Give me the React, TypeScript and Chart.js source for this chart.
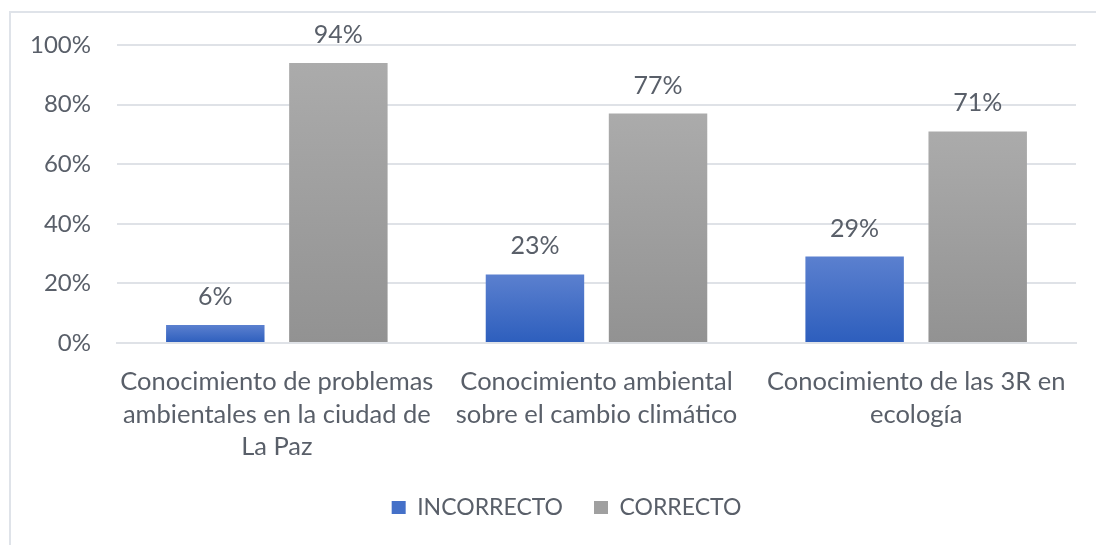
import React, { useEffect, useRef } from "react";
import { Chart, registerables } from "chart.js";

Chart.register(...registerables);

const categories: string[][] = [
  ["Conocimiento de problemas", "ambientales en la ciudad de", "La Paz"],
  ["Conocimiento ambiental", "sobre el cambio climático"],
  ["Conocimiento de las 3R en", "ecología"],
];
const incorrecto: number[] = [6, 23, 29];
const correcto: number[] = [94, 77, 71];
const yTicks: number[] = [0, 20, 40, 60, 80, 100];

const FONT = "Lato, 'Open Sans', sans-serif";
const TEXT = "#595f69";
const GRID = "#dfe2e7";

function barGradient(ctx: any, top: string, bottom: string) {
  const chart = ctx.chart;
  const y = chart.scales?.y;
  if (!y || ctx.parsed === undefined || ctx.type !== "data") return bottom;
  const yTop = y.getPixelForValue(ctx.parsed.y);
  const yBot = y.getPixelForValue(0);
  if (!isFinite(yTop) || !isFinite(yBot) || yTop === yBot) return bottom;
  const g = chart.ctx.createLinearGradient(0, yTop, 0, yBot);
  g.addColorStop(0, top);
  g.addColorStop(1, bottom);
  return g;
}

const dataLabels = {
  id: "dataLabels",
  afterDatasetsDraw(chart: any) {
    const c = chart.ctx;
    c.save();
    c.font = `25px ${FONT}`;
    c.fillStyle = TEXT;
    c.textAlign = "center";
    c.textBaseline = "alphabetic";
    chart.data.datasets.forEach((ds: any, i: number) => {
      const meta = chart.getDatasetMeta(i);
      meta.data.forEach((el: any, j: number) => {
        c.fillText(`${ds.data[j]}%`, el.x, el.y - 20);
      });
    });
    c.restore();
  },
};

export default function App() {
  const ref = useRef<HTMLCanvasElement>(null);
  useEffect(() => {
    if (!ref.current) return;
    const chart = new Chart(ref.current, {
      type: "bar",
      data: {
        labels: categories,
        datasets: [
          {
            label: "INCORRECTO",
            data: incorrecto,
            backgroundColor: (ctx: any) => barGradient(ctx, "#5b80cf", "#2d5ebd"),
            borderWidth: 0,
            categoryPercentage: 0.77,
            barPercentage: 0.8,
          },
          {
            label: "CORRECTO",
            data: correcto,
            backgroundColor: (ctx: any) => barGradient(ctx, "#ababab", "#929292"),
            borderWidth: 0,
            categoryPercentage: 0.77,
            barPercentage: 0.8,
          },
        ],
      },
      options: {
        responsive: false,
        animation: false,
        devicePixelRatio: 1,
        layout: { padding: { top: 45, right: 20, bottom: 16, left: 57 } },
        plugins: {
          legend: {
            position: "bottom",
            labels: {
              color: TEXT,
              font: { family: FONT, size: 23 },
              boxWidth: 14,
              boxHeight: 13,
              padding: 31,
              generateLabels: (chart: any) =>
                chart.data.datasets.map((ds: any, i: number) => ({
                  text: ds.label,
                  fillStyle: i === 0 ? "#4470c8" : "#a0a0a0",
                  strokeStyle: "transparent",
                  lineWidth: 0,
                  datasetIndex: i,
                  fontColor: TEXT,
                })),
            },
          },
          tooltip: { enabled: false },
        },
        scales: {
          x: {
            grid: { display: false, drawTicks: false },
            border: { display: true, color: GRID, width: 2 },
            ticks: {
              color: TEXT,
              font: { family: FONT, size: 25.5, lineHeight: 1.27 },
              padding: 23,
              maxRotation: 0,
              autoSkip: false,
            },
            afterFit: (s: any) => {
              s.height = 122;
            },
          },
          y: {
            min: 0,
            max: 100,
            afterBuildTicks: (s: any) => {
              s.ticks = yTicks.map((v) => ({ value: v }));
            },
            grid: { color: GRID, lineWidth: 2, drawTicks: false },
            border: { display: false },
            ticks: {
              color: TEXT,
              font: { family: FONT, size: 24 },
              mirror: true,
              crossAlign: "far",
              padding: -87,
              callback: (v: any) => `${v}%`,
            },
            afterFit: (s: any) => {
              s.width = 60;
            },
          },
        },
      } as any,
      plugins: [dataLabels],
    });
    return () => chart.destroy();
  }, []);

  return (
    <div
      style={{
        position: "fixed",
        left: 0,
        top: 0,
        width: 1096,
        height: 545,
        overflow: "hidden",
        background: "#fff",
      }}
    >
      <div
        style={{
          position: "absolute",
          left: 9,
          top: 11,
          width: 1200,
          height: 700,
          border: "2px solid #dfe3e9",
          boxSizing: "border-box",
        }}
      />
      <canvas
        ref={ref}
        width={1096}
        height={545}
        style={{ position: "absolute", left: 0, top: 0, width: 1096, height: 545 }}
      />
    </div>
  );
}
